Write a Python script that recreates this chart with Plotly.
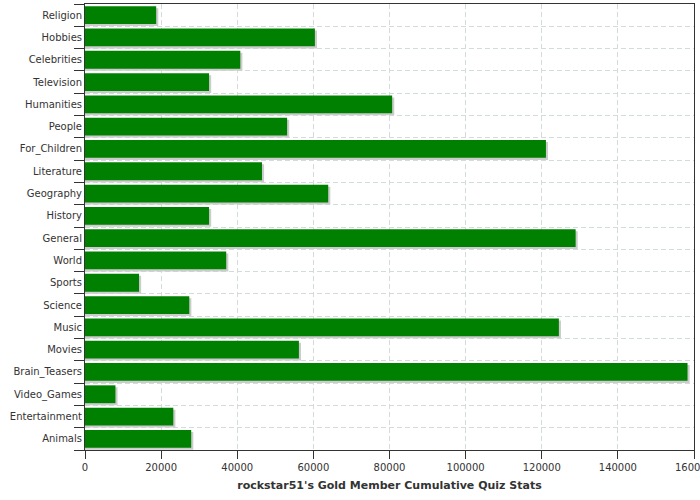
import plotly.graph_objects as go

categories = ["Animals", "Entertainment", "Video_Games", "Brain_Teasers", "Movies", "Music",
              "Science", "Sports", "World", "General", "History", "Geography", "Literature",
              "For_Children", "People", "Humanities", "Television", "Celebrities", "Hobbies", "Religion"]
values = [27900, 23200, 8000, 158300, 56200, 124500,
          27400, 14200, 37100, 128900, 32600, 63900, 46500,
          121100, 53100, 80700, 32600, 40800, 60400, 18700]

title = "rockstar51's Gold Member Cumulative Quiz Stats"

bar_w = 0.8
shadow_dx = 550      # small horizontal shadow shift, in data units
shadow_dy = 0.09     # small vertical shadow shift, in category units

fig = go.Figure()
fig.add_trace(go.Bar(
    y=categories, x=[v + shadow_dx for v in values], orientation="h",
    width=bar_w, offset=-bar_w / 2 - shadow_dy,
    marker=dict(color="#cccccc", line=dict(width=0)),
    hoverinfo="skip", showlegend=False,
))
fig.add_trace(go.Bar(
    y=categories, x=values, orientation="h",
    width=bar_w, offset=-bar_w / 2,
    marker=dict(color="#008000", line=dict(width=0)),
    showlegend=False,
))

fig.update_layout(
    width=700, height=500,
    margin=dict(l=85, r=6, t=4, b=50, autoexpand=False),
    barmode="overlay",
    plot_bgcolor="white", paper_bgcolor="white",
    font=dict(family="DejaVu Sans", size=10, color="#333333"),
    xaxis=dict(
        range=[0, 160000], tickvals=[0, 20000, 40000, 60000, 80000, 100000, 120000, 140000, 160000],
        ticktext=["0", "20000", "40000", "60000", "80000", "100000", "120000", "140000", "160000"],
        showgrid=True, gridcolor="#d3dbdf", griddash="5px,3px", gridwidth=1,
        showline=True, linecolor="#333333", linewidth=1, mirror=True,
        ticks="outside", ticklen=8, tickcolor="#333333",
        ticklabeloverflow="allow",
        zeroline=False, automargin=False,
        title=dict(text="<b>" + title + "</b>", font=dict(size=11, color="#333333"), standoff=9),
    ),
    yaxis=dict(
        type="category", categoryorder="array", categoryarray=categories,
        range=[-0.5, len(categories) - 0.5],
        tickson="boundaries", ticks="outside", ticklen=10, tickcolor="#333333",
        showgrid=True, gridcolor="#d3dbdf", griddash="5px,3px", gridwidth=1,
        showline=True, linecolor="#333333", linewidth=1, mirror=True,
        zeroline=False, automargin=False,
    ),
)

fig.write_html("out.html", config={"displayModeBar": False},
               post_script="document.body.style.margin='0';")
